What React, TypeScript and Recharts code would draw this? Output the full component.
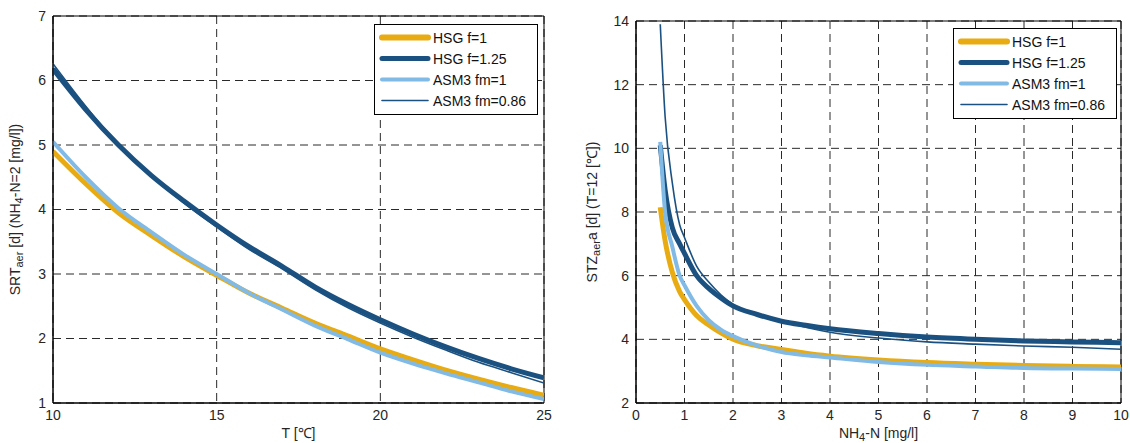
import { LineChart, Line, XAxis, YAxis, CartesianGrid, ReferenceArea, Legend } from 'recharts'

// left panel: SRT vs temperature (NH4-N = 2 mg/l)
const tempC = [10, 11, 12, 13, 14, 15, 16, 17, 18, 19, 20, 21, 22, 23, 24, 25]
const srtHsg1 = [4.9, 4.4, 3.95, 3.6, 3.27, 2.98, 2.7, 2.47, 2.24, 2.04, 1.84, 1.67, 1.51, 1.37, 1.24, 1.12]
const srtHsg125 = [6.18, 5.55, 5.0, 4.53, 4.13, 3.76, 3.42, 3.12, 2.8, 2.53, 2.29, 2.07, 1.87, 1.69, 1.53, 1.39]
const srtAsm1 = [5.05, 4.5, 4.02, 3.65, 3.3, 3.0, 2.7, 2.45, 2.2, 1.99, 1.78, 1.61, 1.46, 1.32, 1.18, 1.06]
const srtAsm086 = [6.26, 5.6, 5.0, 4.52, 4.1, 3.73, 3.38, 3.08, 2.76, 2.48, 2.24, 2.02, 1.82, 1.63, 1.47, 1.31]
const tempTicks = [10, 15, 20, 25]
const srtTicks = [1, 2, 3, 4, 5, 6, 7]

// right panel: STZ vs NH4-N (T = 12 °C)
const nh4 = [0.5, 0.6, 0.75, 0.9, 1, 1.25, 1.5, 1.75, 2, 2.5, 3, 3.5, 4, 5, 6, 7, 8, 9, 10]
const stzHsg1 = [8.15, 7.1, 6.1, 5.5, 5.25, 4.75, 4.45, 4.2, 4.0, 3.8, 3.68, 3.56, 3.47, 3.35, 3.27, 3.22, 3.18, 3.15, 3.13]
const stzHsg125 = [10.1, 8.7, 7.5, 7.0, 6.7, 6.0, 5.6, 5.3, 5.05, 4.78, 4.57, 4.44, 4.33, 4.18, 4.07, 4.0, 3.95, 3.92, 3.89]
const stzAsm1 = [10.2, 8.0, 6.9, 6.0, 5.7, 5.05, 4.6, 4.3, 4.1, 3.8, 3.6, 3.5, 3.43, 3.29, 3.2, 3.15, 3.1, 3.08, 3.07]
const stzAsm086 = [13.9, 11.0, 8.9, 7.6, 7.2, 6.3, 5.8, 5.4, 5.1, 4.78, 4.56, 4.38, 4.22, 4.04, 3.92, 3.85, 3.79, 3.75, 3.69]
const nh4Ticks = [0, 1, 2, 3, 4, 5, 6, 7, 8, 9, 10]
const stzTicks = [2, 4, 6, 8, 10, 12, 14]

const seriesNames = ['HSG f=1', 'HSG f=1.25', 'ASM3 fm=1', 'ASM3 fm=0.86']

const SERIES = [
  { key: 'hsg1', name: seriesNames[0], color: '#E9AB12', width: 5, legendWidth: 6 },
  { key: 'hsg125', name: seriesNames[1], color: '#1B5180', width: 5, legendWidth: 5 },
  { key: 'asm1', name: seriesNames[2], color: '#82BAE6', width: 4, legendWidth: 4 },
  { key: 'asm086', name: seriesNames[3], color: '#1B5180', width: 1.6, legendWidth: 1.6 },
]

const leftData = tempC.map((t, i) => ({
  x: t,
  hsg1: srtHsg1[i],
  hsg125: srtHsg125[i],
  asm1: srtAsm1[i],
  asm086: srtAsm086[i],
}))

const rightData = nh4.map((n, i) => ({
  x: n,
  hsg1: stzHsg1[i],
  hsg125: stzHsg125[i],
  asm1: stzAsm1[i],
  asm086: stzAsm086[i],
}))

const FONT = '"Liberation Sans", Arial, sans-serif'
const TEXT = '#262626'
const tickStyle = { fontSize: 14, fill: TEXT, fontFamily: FONT }

function LegendBox() {
  return (
    <div
      style={{
        width: 164,
        height: 91,
        boxSizing: 'border-box',
        border: '1px solid #000',
        background: '#fff',
        paddingTop: 2,
        fontFamily: FONT,
        fontSize: 14,
        color: '#111',
      }}
    >
      {SERIES.map((s) => (
        <div key={s.key} style={{ height: 21, display: 'flex', alignItems: 'center' }}>
          <svg width={58} height={21} style={{ flex: 'none' }}>
            <line x1={7} x2={53} y1={10.5} y2={10.5} stroke={s.color} strokeWidth={s.legendWidth} strokeLinecap="round" />
          </svg>
          <span style={{ whiteSpace: 'nowrap' }}>{s.name}</span>
        </div>
      ))}
    </div>
  )
}

function YTitle(props: any) {
  const vb = props.viewBox || {}
  const cx = props.cx
  const cy = vb.y + vb.height / 2
  return (
    <text
      x={cx}
      y={cy}
      transform={`rotate(-90, ${cx}, ${cy})`}
      textAnchor="middle"
      dominantBaseline="central"
      fontSize={14}
      fontFamily={FONT}
      fill={TEXT}
    >
      {props.children}
    </text>
  )
}

function XTitle(props: any) {
  const vb = props.viewBox || {}
  const cx = vb.x + vb.width / 2
  return (
    <text x={cx} y={433} textAnchor="middle" dominantBaseline="central" fontSize={14} fontFamily={FONT} fill={TEXT}>
      {props.children}
    </text>
  )
}

function Panel({
  data,
  xDomain,
  xTicks,
  yDomain,
  yTicks,
  margin,
  legendPos,
  xTitle,
  yTitle,
  yTitleX,
}: any) {
  return (
    <LineChart width={560} height={443} data={data} margin={margin}>
      <CartesianGrid stroke="#2a2a2a" strokeDasharray="8 5" />
      <XAxis
        dataKey="x"
        type="number"
        domain={xDomain}
        ticks={xTicks}
        allowDataOverflow
        height={30}
        tickLine={false}
        tickSize={0}
        tickMargin={7}
        tick={tickStyle}
        axisLine={{ stroke: '#000' }}
        label={{ content: (p: any) => <XTitle {...p}>{xTitle}</XTitle> }}
      />
      <YAxis
        type="number"
        domain={yDomain}
        ticks={yTicks}
        allowDataOverflow
        width={40}
        tickLine={false}
        tickSize={0}
        tickMargin={7}
        tick={tickStyle}
        axisLine={{ stroke: '#000' }}
        label={{ content: (p: any) => <YTitle {...p} cx={yTitleX}>{yTitle}</YTitle> }}
      />
      <ReferenceArea
        x1={xDomain[0]}
        x2={xDomain[1]}
        y1={yDomain[0]}
        y2={yDomain[1]}
        fill="none"
        stroke="#000"
        strokeWidth={1}
        ifOverflow="visible"
      />
      {SERIES.map((s) => (
        <Line
          key={s.key}
          dataKey={s.key}
          name={s.name}
          type="monotone"
          stroke={s.color}
          strokeWidth={s.width}
          dot={false}
          activeDot={false}
          isAnimationActive={false}
        />
      ))}
      <Legend
        layout="vertical"
        align="center"
        verticalAlign="middle"
        content={() => <LegendBox />}
        wrapperStyle={{ left: legendPos[0], top: legendPos[1], width: 164, height: 91 }}
      />
    </LineChart>
  )
}

export default function App() {
  const sub = { fontSize: 11 }
  return (
    <div style={{ position: 'absolute', left: 0, top: 0, width: 1130, height: 443, background: '#fff' }}>
      <div style={{ position: 'absolute', left: 0, top: 0 }}>
        <Panel
          data={leftData}
          xDomain={[10, 25]}
          xTicks={tempTicks}
          yDomain={[1, 7]}
          yTicks={srtTicks}
          margin={{ top: 16, right: 16, bottom: 10, left: 13 }}
          legendPos={[374, 24]}
          xTitle="T [℃]"
          yTitleX={15}
          yTitle={
            <>
              SRT<tspan dy={4} style={sub}>aer</tspan>
              <tspan dy={-4}> [d]  (NH</tspan>
              <tspan dy={4} style={sub}>4</tspan>
              <tspan dy={-4}>-N=2 [mg/l])</tspan>
            </>
          }
        />
      </div>
      <div style={{ position: 'absolute', left: 570, top: 0 }}>
        <Panel
          data={rightData}
          xDomain={[0, 10]}
          xTicks={nh4Ticks}
          yDomain={[2, 14]}
          yTicks={stzTicks}
          margin={{ top: 21, right: 9, bottom: 10, left: 26 }}
          legendPos={[383, 28]}
          xTitle={
            <>
              NH<tspan dy={4} style={sub}>4</tspan>
              <tspan dy={-4}>-N [mg/l]</tspan>
            </>
          }
          yTitleX={22}
          yTitle={
            <>
              STZ<tspan dy={4} style={sub}>aer</tspan>
              <tspan dy={-4}>a [d] (T=12 [℃])</tspan>
            </>
          }
        />
      </div>
    </div>
  )
}
